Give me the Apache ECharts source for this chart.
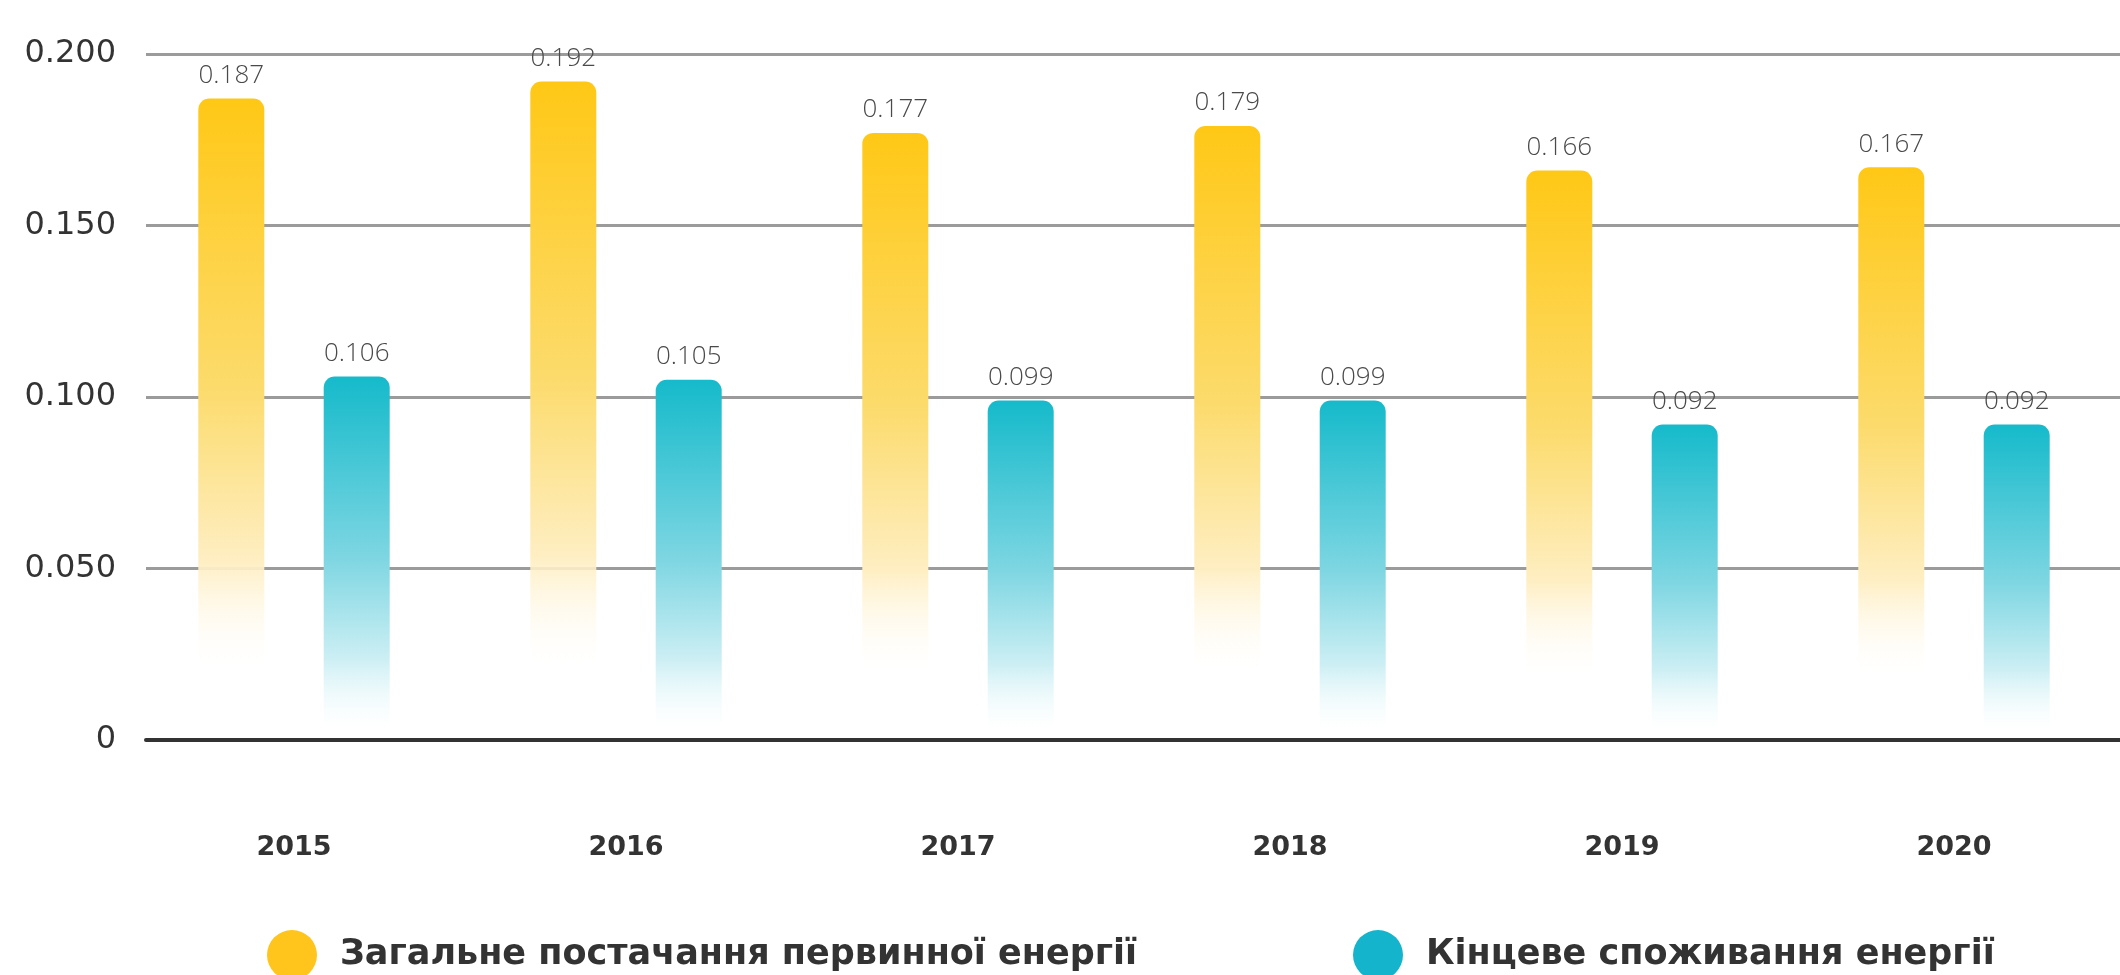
<!DOCTYPE html>
<html>
<head>
<meta charset="utf-8">
<script src="https://cdn.jsdelivr.net/npm/echarts@6/dist/echarts.min.js"></script>
<style>
  html, body { margin: 0; padding: 0; background: #fff; }
  #container { width: 2120px; height: 975px; }
</style>
</head>
<body>
<div id="container"></div>
<script>
var years = ["2015", "2016", "2017", "2018", "2019", "2020"];
var primarySupply = [0.187, 0.192, 0.177, 0.179, 0.166, 0.167];
var finalConsumption = [0.106, 0.105, 0.099, 0.099, 0.092, 0.092];
var seriesNames = ["Загальне постачання первинної енергії", "Кінцеве споживання енергії"];
var yTicks = [0, 0.05, 0.1, 0.15, 0.2];

var dom = document.getElementById("container");
var myChart = echarts.init(dom, null, { renderer: "canvas" });

var yellowFill = new echarts.graphic.LinearGradient(0, 0, 0, 1, [
  { offset: 0, color: "#FFC816" },
  { offset: 0.45, color: "#FCDB6C" },
  { offset: 0.72, color: "#FEEEC2" },
  { offset: 0.9, color: "rgba(255,255,255,0)" },
  { offset: 1, color: "rgba(255,255,255,0)" },
]);
var tealFill = new echarts.graphic.LinearGradient(0, 0, 0, 1, [
  { offset: 0, color: "#15BACB" },
  { offset: 0.5, color: "#7ED6E2" },
  { offset: 0.78, color: "#CDEFF4" },
  { offset: 0.97, color: "rgba(240,251,253,0)" },
  { offset: 1, color: "rgba(255,255,255,0)" },
]);

var valueLabel = {
  show: true,
  position: "top",
  distance: 10,
  color: "#4a4a4a",
  fontFamily: "Open Sans",
  fontWeight: 300,
  fontSize: 26,
  formatter: function (p) {
    return p.value.toFixed(3);
  },
};

var legendText = {
  fontFamily: "DejaVu Sans",
  fontWeight: "bold",
  fontSize: 35,
  color: "#333",
  padding: [0, 0, 0, 18],
};

var option = {
  backgroundColor: "#fff",
  animation: false,
  legend: [
    {
      data: [seriesNames[0]],
      left: 262,
      top: 925,
      icon: "circle",
      itemWidth: 50,
      itemHeight: 50,
      itemStyle: { color: "#FFC51C" },
      textStyle: legendText,
    },
    {
      data: [seriesNames[1]],
      left: 1348,
      top: 925,
      icon: "circle",
      itemWidth: 50,
      itemHeight: 50,
      itemStyle: { color: "#14B4CC" },
      textStyle: legendText,
    },
  ],
  grid: [
    // axis grid: labels, split lines, zero line
    { left: 146, right: 0, top: 54, bottom: 235 },
    // bar grid: category bands reach past the right edge
    { left: 128, right: -51, top: 54, bottom: 235 },
  ],
  xAxis: [
    {
      gridIndex: 0,
      type: "category",
      data: years,
      axisLine: { show: true, lineStyle: { color: "#333", width: 4 } },
      axisTick: { show: false },
      axisLabel: { show: false },
    },
    {
      gridIndex: 1,
      type: "category",
      data: years,
      axisLine: { show: false },
      axisTick: { show: false },
      axisLabel: {
        margin: 94,
        color: "#333",
        fontFamily: "DejaVu Sans",
        fontWeight: "bold",
        fontSize: 27,
      },
    },
  ],
  yAxis: [
    {
      gridIndex: 0,
      type: "value",
      min: yTicks[0],
      max: yTicks[yTicks.length - 1],
      interval: 0.05,
      axisLine: { show: false },
      axisTick: { show: false },
      splitLine: { lineStyle: { color: "#9b9b9b", width: 3 } },
      axisLabel: {
        margin: 30,
        color: "#333",
        fontFamily: "DejaVu Sans",
        fontSize: 32,
        formatter: function (v) {
          return v === 0 ? "0" : v.toFixed(3);
        },
      },
    },
    {
      gridIndex: 1,
      type: "value",
      min: yTicks[0],
      max: yTicks[yTicks.length - 1],
      interval: 0.05,
      show: false,
    },
  ],
  series: [
    {
      name: seriesNames[0],
      type: "bar",
      xAxisIndex: 1,
      yAxisIndex: 1,
      data: primarySupply,
      barWidth: 66,
      barGap: "90%",
      itemStyle: { color: yellowFill, borderRadius: [11, 11, 0, 0] },
      label: valueLabel,
    },
    {
      name: seriesNames[1],
      type: "bar",
      xAxisIndex: 1,
      yAxisIndex: 1,
      data: finalConsumption,
      barWidth: 66,
      itemStyle: { color: tealFill, borderRadius: [11, 11, 0, 0] },
      label: valueLabel,
    },
  ],
};

if (option && typeof option === "object") {
  myChart.setOption(option);
}

window.addEventListener("resize", myChart.resize);
</script>
</body>
</html>
